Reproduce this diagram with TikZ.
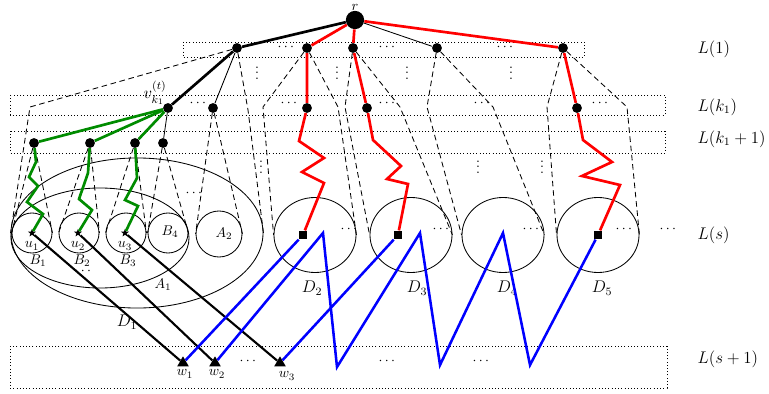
\documentclass[tikz,border=0pt]{standalone}
\usepackage{amsmath}
\usetikzlibrary{shapes.geometric}
\tikzset{font=\normalsize}

\begin{document}
\begin{tikzpicture}[x=0.025cm,y=-0.025cm,
    layerbox/.style={draw,line width=0.7pt,dash pattern=on 0.7pt off 1.6pt},
    coneline/.style={line width=0.6pt,dash pattern=on 4pt off 2.6pt},
    vtx/.style={circle,fill,inner sep=0pt,minimum size=7pt},
    sqmark/.style={rectangle,fill,inner sep=0pt,minimum size=6.2pt},
    trimark/.style={regular polygon,regular polygon sides=3,fill,inner sep=0pt,minimum size=9.5pt},
    starmark/.style={star,star points=5,star point ratio=2.4,fill,inner sep=0pt,minimum size=6pt},
    setcirc/.style={circle,draw,line width=0.6pt,inner sep=0pt,minimum size=1cm},
    setell/.style={ellipse,draw,line width=0.6pt,inner sep=0pt,minimum width=2.05cm,minimum height=1.875cm},
    heavy/.style={line width=1.9pt},
    fewdots/.style={inner sep=0pt},
    lvllabel/.style={anchor=west,inner sep=1pt,font=\large}]
  \useasboundingbox (0,0) rectangle (769,394);

  % layers
  \draw[layerbox] (183,42) rectangle (584,57);
  \draw[layerbox] (10,95) rectangle (665,115);
  \draw[layerbox] (10,131) rectangle (665,153);
  \draw[layerbox] (10,346) rectangle (667,388);

  \node[lvllabel] (l1) at (696,49) {$L(1)$};
  \node[lvllabel] (lk) at (696,107) {$L(k_1)$};
  \node[lvllabel] (lk1) at (696,139) {$L(k_1+1)$};
  \node[lvllabel] (ls) at (696,235) {$L(s)$};
  \node[lvllabel] (ls1) at (696,359) {$L(s+1)$};

  % tree nodes
  \node[vtx,minimum size=13pt] (r) at (355,20) {};
  \node[anchor=south,inner sep=0pt] (rlab) at (r.north) {$r$};
  \node[vtx] (a1) at (237,48) {};
  \node[vtx] (a2) at (307,48) {};
  \node[vtx] (a3) at (353,48) {};
  \node[vtx] (a4) at (437,48) {};
  \node[vtx] (a5) at (563,48) {};
  \node[vtx] (vk) at (168,108) {};
  \node[vtx] (kb) at (213,108) {};
  \node[vtx] (k2) at (307,108) {};
  \node[vtx] (k3) at (367,108) {};
  \node[vtx] (k5) at (577,108) {};
  \node[vtx] (g1) at (34,143) {};
  \node[vtx] (g2) at (90,143) {};
  \node[vtx] (g3) at (135,143) {};
  \node[vtx] (g4) at (163,143) {};
  \node[font=\large,inner sep=0pt] (vlab) at (155,93) {$v_{k_1}^{(t)}$};

  % sets at L(s)
  \node[setell,minimum width=6.3cm,minimum height=3.75cm] (D1) at (137,233) {};
  \node[setell,minimum width=4.45cm,minimum height=2.5cm] (A1) at (100,238) {};
  \node[setcirc] (B1) at (32,233) {};
  \node[setcirc] (B2) at (79,233) {};
  \node[setcirc] (B3) at (126,233) {};
  \node[setcirc] (B4) at (168,233) {};
  \node[setcirc,minimum size=1.15cm] (A2) at (219,234) {};
  \node[setell] (D2) at (315,235) {};
  \node[setell] (D3) at (411,235) {};
  \node[setell] (D4) at (503,235) {};
  \node[setell] (D5) at (598,235) {};

  \node (B4lab) at (170,232) {$B_4$};
  \node (A2lab) at (224,234) {$A_2$};
  \node[inner sep=0pt] (B1lab) at (38,261) {$B_1$};
  \node[inner sep=0pt] (B2lab) at (82,261) {$B_2$};
  \node[inner sep=0pt] (B3lab) at (128,261) {$B_3$};
  \node (A1lab) at (163,285) {$A_1$};
  \node[font=\large] (D1lab) at (127,322) {$D_1$};
  \node[font=\large] (D2lab) at (312,288) {$D_2$};
  \node[font=\large] (D3lab) at (417,288) {$D_3$};
  \node[font=\large] (D4lab) at (507,288) {$D_4$};
  \node[font=\large] (D5lab) at (602,288) {$D_5$};

  \node[starmark] (u1) at (32,233) {};
  \node[starmark] (u2) at (78,233) {};
  \node[starmark] (u3) at (125,233) {};
  \node[inner sep=0pt] (u1lab) at (32,246) {$u_1$};
  \node[inner sep=0pt] (u2lab) at (78,246) {$u_2$};
  \node[inner sep=0pt] (u3lab) at (125,246) {$u_3$};
  \node[sqmark] (s2) at (303,235) {};
  \node[sqmark] (s3) at (398,235) {};
  \node[sqmark] (s5) at (598,235) {};

  \node[trimark] (w1) at (183,363) {};
  \node[trimark] (w2) at (215,363) {};
  \node[trimark] (w3) at (280,363) {};
  \node (w1lab) at (185,374) {$w_1$};
  \node (w2lab) at (217,374) {$w_2$};
  \node (w3lab) at (287,376) {$w_3$};

  % dots
  \foreach \x/\y [count=\i] in {287/47,388/47,506/47,199/103,290/103,388/103,483/103,601/103,
      350/229,442/229,532/229,625/229,669/229,195/193,84/271,249/361,388/361,482/361}
    \node[fewdots] (hd\i) at (\x,\y) {$\cdots$};
  \foreach \x/\y [count=\i] in {257/69,337/69,407/69,511/69,261/163,478/163,542/163}
    \node[fewdots] (vd\i) at (\x,\y) {$\vdots$};

  % cones
  \draw[coneline] (a1) -- (30,107) -- (D1.west);
  \draw[coneline] (a1) -- (248,110) -- (D1.east);
  \draw[coneline] (a2) -- (263,107) -- (D2.west);
  \draw[coneline] (a2) -- (338,107) -- (D2.east);
  \draw[coneline] (a3) -- (345,107) -- (D3.west);
  \draw[coneline] (a3) -- (400,107) -- (D3.east);
  \draw[coneline] (a4) -- (427,107) -- (D4.west);
  \draw[coneline] (a4) -- (493,107) -- (D4.east);
  \draw[coneline] (a5) -- (547,107) -- (D5.west);
  \draw[coneline] (a5) -- (627,107) -- (D5.east);
  \draw[coneline] (kb) -- (A2.west) (kb) -- (A2.east);
  \foreach \i in {1,...,4}
    \draw[coneline] (g\i) -- (B\i.west) (g\i) -- (B\i.east);

  % tree edges
  \draw[heavy] (r) -- (a1) -- (vk);
  \draw[line width=0.6pt] (r) -- (a4) (a1) -- (kb) (vk) -- (g4);

  \draw[line width=1.5pt] (u1) -- (w1) (u2) -- (w2) (u3) -- (w3);
  \begin{scope}[blue,line width=1.8pt]
    \draw (w1) -- (s2) (w3) -- (s3);
    \draw (w2) -- (323,233) -- (337,367) -- (420,233) -- (440,365)
      -- (503,233) -- (530,365) -- (s5);
  \end{scope}

  \begin{scope}[red,heavy]
    \draw (r) -- (a2) -- (k2) -- (299,141) -- (324,158) -- (302,172) -- (324,183) -- (s2);
    \draw (r) -- (a3) -- (k3) -- (373,140) -- (401,166) -- (387,179) -- (408,184) -- (s3);
    \draw (r) -- (a5) -- (k5) -- (583,140) -- (612,162) -- (582,176) -- (620,185) -- (s5);
  \end{scope}
  \begin{scope}[green!55!black,heavy]
    \draw (vk) -- (g1) -- (36,162) -- (29,177) -- (38,186) -- (27,202) -- (43,214) -- (u1);
    \draw (vk) -- (g2) -- (88,173) -- (79,199) -- (92,210) -- (u2);
    \draw (vk) -- (g3) -- (137,178) -- (125,200) -- (138,206) -- (u3);
  \end{scope}
\end{tikzpicture}
\end{document}
